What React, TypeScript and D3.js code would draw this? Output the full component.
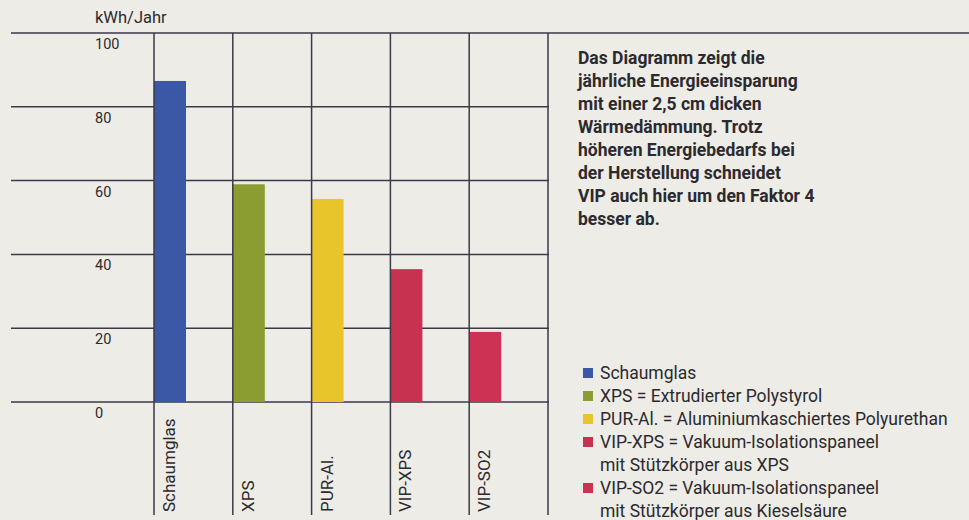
import { useEffect, useRef } from 'react'
import * as d3 from 'd3'

const categories = ['Schaumglas', 'XPS', 'PUR-Al.', 'VIP-XPS', 'VIP-SO2']
const savings = [87, 59, 55, 36, 19]
const barColors = ['#3b58a6', '#8b9d31', '#e7c52b', '#c6324f', '#cd3154']
const yTicks = [0, 20, 40, 60, 80, 100]
const unitLabel = 'kWh/Jahr'

const noteLines = [
  'Das Diagramm zeigt die',
  'jährliche Energieeinsparung',
  'mit einer 2,5 cm dicken',
  'Wärmedämmung. Trotz',
  'höheren Energiebedarfs bei',
  'der Herstellung schneidet',
  'VIP auch hier um den Faktor 4',
  'besser ab.',
]

const legendLabels = [
  ['Schaumglas'],
  ['XPS = Extrudierter Polystyrol'],
  ['PUR-Al. = Aluminiumkaschiertes Polyurethan'],
  ['VIP-XPS = Vakuum-Isolationspaneel', 'mit Stützkörper aus XPS'],
  ['VIP-SO2 = Vakuum-Isolationspaneel', 'mit Stützkörper aus Kieselsäure'],
]

const WIDTH = 969
const HEIGHT = 520
const FONT = 'Roboto, "Noto Sans", sans-serif'
const INK = '#2b2a2e'
const RULE = '#3c3948'

export default function App() {
  const svgRef = useRef<SVGSVGElement>(null)

  useEffect(() => {
    if (!svgRef.current) return
    const svg = d3.select(svgRef.current)
    svg.selectAll('*').remove()

    svg.append('rect')
      .attr('width', WIDTH)
      .attr('height', HEIGHT)
      .attr('fill', '#eeece7')

    const gridLeft = 11
    const plotLeft = 154
    const plotRight = 548
    const gridBottom = 515

    const y = d3.scaleLinear().domain([0, 100]).range([402, 33])
    const x = d3.scaleBand<string>()
      .domain(categories)
      .range([plotLeft, plotRight])
      .paddingInner(0)
      .paddingOuter(0)
    const barWidth = 32

    // unit label
    svg.append('text')
      .attr('x', 95)
      .attr('y', 23)
      .attr('font-family', FONT)
      .attr('font-size', 16.5)
      .attr('fill', INK)
      .text(unitLabel)

    // horizontal rules
    svg.append('g')
      .selectAll('line')
      .data(yTicks)
      .enter()
      .append('line')
      .attr('x1', gridLeft)
      .attr('x2', d => (d === 100 ? WIDTH : plotRight + 1))
      .attr('y1', d => y(d))
      .attr('y2', d => y(d))
      .attr('stroke', RULE)
      .attr('stroke-width', 1.5)

    // y tick labels (below each rule)
    svg.append('g')
      .selectAll('text')
      .data(yTicks)
      .enter()
      .append('text')
      .attr('x', 95)
      .attr('y', d => y(d) + 16)
      .attr('font-family', FONT)
      .attr('font-size', 14.5)
      .attr('fill', INK)
      .text(d => String(d))

    // bars
    svg.append('g')
      .selectAll('rect')
      .data(categories)
      .enter()
      .append('rect')
      .attr('x', d => x(d) || 0)
      .attr('y', (_, i) => y(savings[i]))
      .attr('width', barWidth)
      .attr('height', (_, i) => y(0) - y(savings[i]))
      .attr('fill', (_, i) => barColors[i])

    // vertical rules
    const edges = [...categories.map(c => x(c) || 0), plotRight]
    svg.append('g')
      .selectAll('line')
      .data(edges)
      .enter()
      .append('line')
      .attr('x1', d => d)
      .attr('x2', d => d)
      .attr('y1', y(100))
      .attr('y2', gridBottom)
      .attr('stroke', RULE)
      .attr('stroke-width', 1.5)

    // category labels, rotated
    svg.append('g')
      .selectAll('text')
      .data(categories)
      .enter()
      .append('text')
      .attr('transform', d => `translate(${(x(d) || 0) + 21},512) rotate(-90)`)
      .attr('font-family', FONT)
      .attr('font-size', 17)
      .attr('fill', INK)
      .text(d => d)

    // note text
    svg.append('g')
      .selectAll('text')
      .data(noteLines)
      .enter()
      .append('text')
      .attr('x', 578)
      .attr('y', (_, i) => 64 + i * 23)
      .attr('font-family', FONT)
      .attr('font-weight', 'bold')
      .attr('font-size', 17.5)
      .attr('fill', INK)
      .text(d => d)

    // legend
    const legend = svg.append('g')
    let row = 0
    legendLabels.forEach((lines, i) => {
      const cy = 373 + row * 23
      legend.append('rect')
        .attr('x', 583)
        .attr('y', cy - 5)
        .attr('width', 10)
        .attr('height', 10)
        .attr('fill', barColors[i])
      lines.forEach((line, j) => {
        legend.append('text')
          .attr('x', 600)
          .attr('y', cy + j * 23 + 6)
          .attr('font-family', FONT)
          .attr('font-size', 17.5)
          .attr('fill', INK)
          .text(line)
      })
      row += lines.length
    })
  }, [])

  return (
    <div style={{ position: 'absolute', left: 0, top: 0, width: WIDTH, height: HEIGHT }}>
      <svg ref={svgRef} width={WIDTH} height={HEIGHT} style={{ display: 'block' }} />
    </div>
  )
}
